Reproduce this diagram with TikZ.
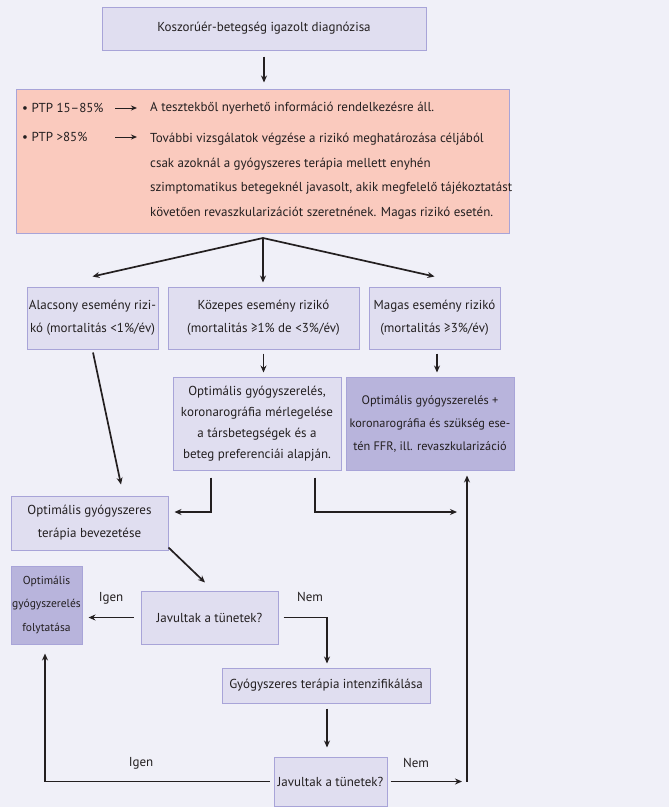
\documentclass[tikz,border=0pt]{standalone}
\usepackage{fontspec}
\setmainfont{PT Sans}
\usetikzlibrary{arrows.meta}
\definecolor{bg}{RGB}{240,240,248}
\definecolor{boxfill}{RGB}{224,222,240}
\definecolor{boxline}{RGB}{168,164,216}
\definecolor{boxdark}{RGB}{184,180,220}
\definecolor{pink}{RGB}{250,202,190}
\definecolor{ink}{RGB}{35,31,32}

\begin{document}
\begin{tikzpicture}[x=1pt, y=-1pt, >={Stealth[length=7pt,width=6pt]}]
			\tikzstyle{box}=[draw=boxline, fill=boxfill, line width=1pt, align=center, inner sep=0pt, text=ink, font=\fontsize{13}{23}\selectfont]
			\tikzstyle{boxd}=[box, fill=boxdark]
			\tikzstyle{lbl}=[text=ink, inner sep=0pt, font=\fontsize{13}{16}\selectfont]
			\tikzstyle{link}=[->, draw=ink, line width=1.7pt]
			\tikzstyle{slink}=[->, draw=ink, line width=1pt, >={Stealth[length=6pt,width=5pt]}]
			
			\fill [bg] (0,0) rectangle (669,807);
			\useasboundingbox (0,0) rectangle (669,807);
			
			\draw node at (264, 28.5) [box, minimum width=324pt, minimum height=43pt] (diag) {Koszorúér-betegség igazolt diagnózisa};
			
			% pink box with the PTP rules
			\draw node at (262.5, 161) [box, fill=pink, minimum width=493pt, minimum height=144pt] (ptp) {};
			\node at (22, 108) [lbl, anchor=west] (ptpa) {• PTP 15–85\%};
			\node at (22, 137) [lbl, anchor=west] (ptpb) {• PTP >85\%};
			\node at (150, 108) [lbl, anchor=west] (infoa) {A tesztekből nyerhető információ rendelkezésre áll.};
			\node at (150, 133) [lbl, anchor=north west, align=left, font=\fontsize{13}{24.5}\selectfont] (infob) {További vizsgálatok végzése a rizikó meghatározása céljából\\csak azoknál a gyógyszeres terápia mellett enyhén\\szimptomatikus betegeknél javasolt, akik megfelelő tájékoztatást\\követően revaszkularizációt szeretnének. Magas rizikó esetén.};
			\coordinate (pa) at (115, 108);
			\coordinate (pb) at (115, 137);
			\draw [slink, shorten >=13pt] (pa) to (pa -| infoa.west);
			\draw [slink, shorten >=13pt] (pb) to (pb -| infob.west);
			
			\draw node at (92.5, 318) [box, minimum width=131pt, minimum height=62pt] (low) {Alacsony esemény rizi-\\kó (mortalitás <1\%/év)};
			\draw node at (263.5, 318) [box, minimum width=191pt, minimum height=62pt] (mid) {Közepes esemény rizikó\\(mortalitás ≥1\% de <3\%/év)};
			\draw node at (434.5, 318) [box, minimum width=131pt, minimum height=62pt] (high) {Magas esemény rizikó\\(mortalitás ≥3\%/év)};
			
			\coordinate (fan) at (263, 238);
			\draw [link, shorten <=6pt] (diag.south) to ([yshift=6pt]diag.south |- ptp.north);
			\draw [link] (fan) to ([yshift=10pt]low.north);
			\draw [link] (fan) to ([yshift=4pt]fan |- mid.north);
			\draw [link] (fan) to ([yshift=10pt]high.north);
			
			\draw node at (257, 423.5) [box, minimum width=168pt, minimum height=93pt, font=\fontsize{13}{21}\selectfont] (opt) {Optimális gyógyszerelés,\\koronarográfia mérlegelése\\a társbetegségek és a\\beteg preferenciái alapján.};
			\draw node at (430, 423.5) [boxd, minimum width=168pt, minimum height=93pt, font=\fontsize{12.3}{23}\selectfont] (revasc) {Optimális gyógyszerelés +\\koronarográfia és szükség ese-\\tén FFR, ill. revaszkularizáció};
			
			\draw [link] ([yshift=-4pt]mid.south) to ([yshift=4pt]mid.south |- opt.north);
			\draw [link] ([xshift=2.5pt,yshift=-4pt]high.south) to ([xshift=2.5pt,yshift=4pt]high.south |- revasc.north);
			
			\draw node at (89.5, 523) [box, minimum width=157pt, minimum height=54pt] (start) {Optimális gyógyszeres\\terápia bevezetése};
			\draw node at (46.5, 605) [boxd, minimum width=71pt, minimum height=78pt, font=\fontsize{11.5}{23.5}\selectfont] (cont) {Optimális\\gyógyszerelés\\folytatása};
			\draw node at (209.5, 617.5) [box, minimum width=137pt, minimum height=53pt] (jav1) {Javultak a tünetek?};
			\draw node at (326, 685.5) [box, minimum width=208pt, minimum height=35pt] (intens) {Gyógyszeres terápia intenzifikálása};
			\draw node at (330.5, 781.5) [box, minimum width=113pt, minimum height=49pt] (jav2) {Javultak a tünetek?};
			
			\coordinate (rail) at (467, 781.5);
			
			\draw [link] ([xshift=0.5pt,yshift=-3pt]low.south) to ([xshift=31.5pt,yshift=11pt]start.north);
			\draw [link] ([xshift=-46pt,yshift=-7pt]opt.south) |- ([xshift=6pt,yshift=11pt]start.east);
			\draw [link] ([xshift=58pt,yshift=-7pt]opt.south) |- ([xshift=-10pt,yshift=11pt]rail |- start.east);
			\draw [link, shorten >=5pt] (rail) to (rail |- revasc.south);
			
			\draw [link] ([yshift=3pt]start.south east) to ([xshift=-4.5pt,yshift=8pt]jav1.north);
			\draw [link] ([xshift=-7pt]jav1.west) to node[midway, lbl, above=12pt] (igena) {Igen} ([xshift=6pt]jav1.west -| cont.east);
			\draw [link] ([xshift=5pt]jav1.east) -| ([xshift=1pt,yshift=4pt]intens.north);
			\node at (310, 597) [lbl] (nema) {Nem};
			\draw [link] ([xshift=1pt,yshift=-5pt]intens.south) to ([xshift=1pt,yshift=9pt]intens.south |- jav2.north);
			
			\draw [link] ([xshift=-4pt]jav2.west) -| ([xshift=-1.5pt,yshift=-9pt]cont.south);
			\node at (141, 763) [lbl] (igenb) {Igen};
			\draw [link] ([xshift=3pt]jav2.east) to ([xshift=-5pt]rail);
			\node at (416, 763) [lbl] (nemb) {Nem};
\end{tikzpicture}
\end{document}
